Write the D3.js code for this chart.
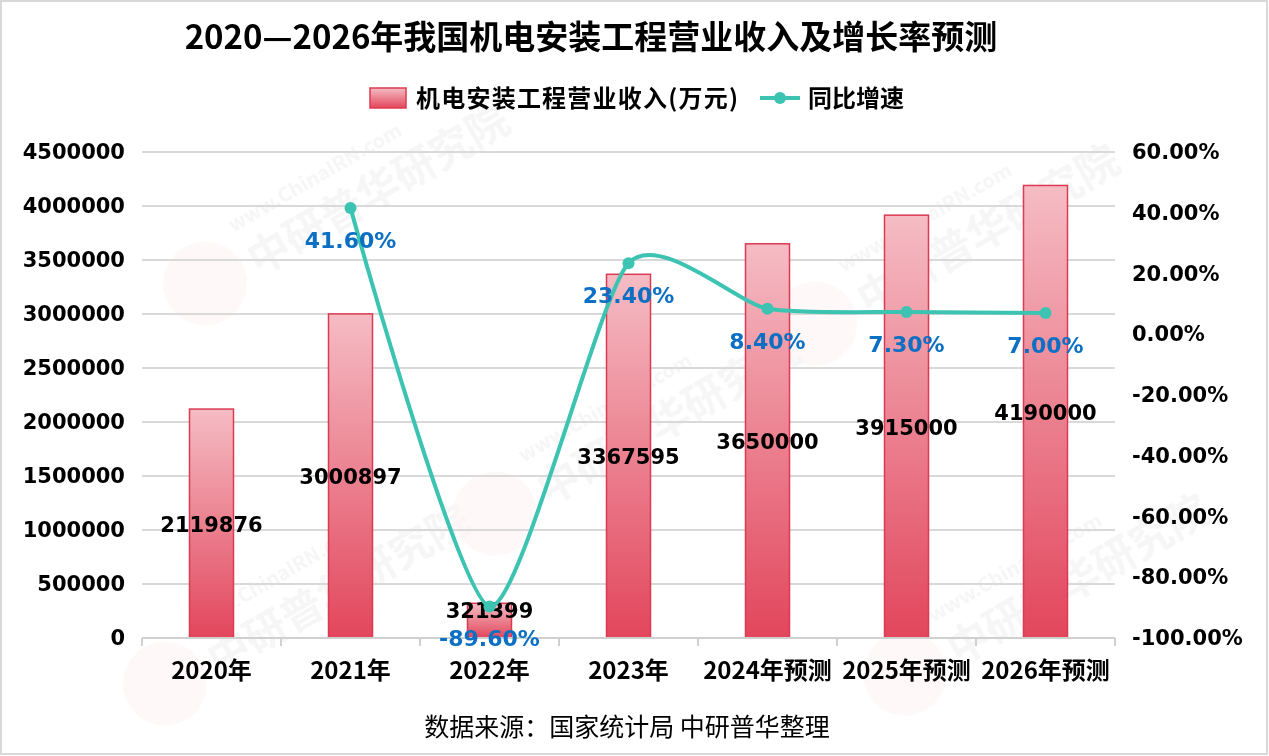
<!DOCTYPE html>
<html>
<head>
<meta charset="utf-8">
<script src="https://cdn.jsdelivr.net/npm/d3@7"></script>
<style>
  body { margin: 0; background: #fff; }
  text { font-family: "Noto Sans CJK SC", "Noto Sans", sans-serif; }
</style>
</head>
<body>
<div id="chart"></div>
<script>
// data
var years = ["2020年", "2021年", "2022年", "2023年", "2024年预测", "2025年预测", "2026年预测"];
var revenue = [2119876, 3000897, 321399, 3367595, 3650000, 3915000, 4190000];
var growth = [null, 41.6, -89.6, 23.4, 8.4, 7.3, 7.0];
var leftTicks = [0, 500000, 1000000, 1500000, 2000000, 2500000, 3000000, 3500000, 4000000, 4500000];
var rightTicks = [-100, -80, -60, -40, -20, 0, 20, 40, 60];

var W = 1269, H = 756;
var svg = d3.select("#chart").append("svg").attr("width", W).attr("height", H);

// gradients
var defs = svg.append("defs");
var grad = defs.append("linearGradient").attr("id", "barGrad")
    .attr("x1", 0).attr("y1", 0).attr("x2", 0).attr("y2", 1);
grad.append("stop").attr("offset", "0%").attr("stop-color", "#f5bcc4");
grad.append("stop").attr("offset", "100%").attr("stop-color", "#e2465c");

// outer border
svg.append("rect").attr("x", 1).attr("y", 1).attr("width", W - 3).attr("height", H - 3)
    .attr("fill", "#fff").attr("stroke", "#d9d9d9").attr("stroke-width", 2);

// plot area
var pLeft = 142, pRight = 1115, pTop = 152, pBottom = 638;

var x = d3.scaleBand().domain(years).range([pLeft, pRight]).paddingInner(0).paddingOuter(0);
var y = d3.scaleLinear().domain([0, 4500000]).range([pBottom, pTop]);
var y2 = d3.scaleLinear().domain([-100, 60]).range([pBottom, pTop]);

// watermarks
var wm = svg.append("g").attr("opacity", 0.06);
[[330, 200], [940, 240], [290, 600], [1030, 590], [620, 430]].forEach(function (p) {
    var g = wm.append("g").attr("transform", "translate(" + p[0] + "," + p[1] + ")rotate(-30)");
    g.append("circle").attr("cx", -150).attr("cy", 10).attr("r", 42).attr("fill", "#e2465c").attr("opacity", 0.6);
    g.append("text").attr("x", -100).attr("y", -20).attr("font-size", 20).attr("font-weight", "bold")
        .attr("fill", "#666").text("www.ChinaIRN.com");
    g.append("text").attr("x", -100).attr("y", 30).attr("font-size", 42).attr("font-weight", "bold")
        .attr("fill", "#666").text("中研普华研究院");
});

// gridlines
svg.append("g").selectAll("line").data(leftTicks.slice(1)).enter().append("line")
    .attr("x1", pLeft).attr("x2", pRight)
    .attr("y1", function (d) { return y(d); }).attr("y2", function (d) { return y(d); })
    .attr("stroke", "#d9d9d9").attr("stroke-width", 2);

// left axis
var yAxis = d3.axisLeft(y).tickValues(leftTicks).tickSize(0).tickPadding(17).tickFormat(d3.format("d"));
var ga = svg.append("g").attr("transform", "translate(" + pLeft + ",0)").call(yAxis);
ga.select(".domain").remove();
ga.selectAll("text").attr("font-weight", "bold").attr("fill", "#000")
    .style("font-family", "'DejaVu Sans', sans-serif").style("font-size", "21px");

// right axis
var yAxis2 = d3.axisRight(y2).tickValues(rightTicks).tickSize(0).tickPadding(0)
    .tickFormat(function (d) { return d.toFixed(2) + "%"; });
var gb = svg.append("g").attr("transform", "translate(" + (pRight + 17) + ",0)").call(yAxis2);
gb.select(".domain").remove();
gb.selectAll("text").attr("fill", "#000").attr("font-weight", "bold")
    .style("font-family", "'DejaVu Sans', sans-serif").style("font-size", "21px");

// bars
var barW = 44;
svg.append("g").selectAll("rect").data(revenue).enter().append("rect")
    .attr("x", function (d, i) { return x(years[i]) + x.bandwidth() / 2 - barW / 2; })
    .attr("y", function (d) { return y(d); })
    .attr("width", barW)
    .attr("height", function (d) { return pBottom - y(d); })
    .attr("fill", "url(#barGrad)")
    .attr("stroke", "#dc3a52").attr("stroke-width", 1.5);

// x axis
svg.append("line").attr("x1", pLeft).attr("x2", pRight).attr("y1", pBottom).attr("y2", pBottom)
    .attr("stroke", "#d0d0d0").attr("stroke-width", 2);
var xb = d3.range(years.length + 1).map(function (i) { return pLeft + i * x.bandwidth(); });
svg.append("g").selectAll("line").data(xb).enter().append("line")
    .attr("x1", function (d) { return d; }).attr("x2", function (d) { return d; })
    .attr("y1", pBottom).attr("y2", pBottom + 8)
    .attr("stroke", "#d0d0d0").attr("stroke-width", 2);
svg.append("g").selectAll("text").data(years).enter().append("text")
    .attr("x", function (d) { return x(d) + x.bandwidth() / 2; })
    .attr("y", 679).attr("text-anchor", "middle")
    .attr("font-size", 24).attr("font-weight", "bold").attr("fill", "#000")
    .text(function (d) { return d; });

// bar value labels
svg.append("g").selectAll("text").data(revenue).enter().append("text")
    .attr("x", function (d, i) { return x(years[i]) + x.bandwidth() / 2; })
    .attr("y", function (d, i) { return i == 2 ? 618 : (y(d) + pBottom) / 2 + 8; })
    .attr("text-anchor", "middle")
    .attr("font-weight", "bold").attr("fill", "#000")
    .style("font-family", "'DejaVu Sans', sans-serif").style("font-size", "21px")
    .text(function (d) { return d; });

// growth line
var pts = growth.map(function (d, i) { return d == null ? null : [x(years[i]) + x.bandwidth() / 2, y2(d)]; })
    .filter(function (d) { return d; });
var line = d3.line().curve(d3.curveCardinal.tension(0.35));
svg.append("path").attr("d", line(pts)).attr("fill", "none")
    .attr("stroke", "#3cc3b1").attr("stroke-width", 4);
svg.append("g").selectAll("circle").data(pts).enter().append("circle")
    .attr("cx", function (d) { return d[0]; }).attr("cy", function (d) { return d[1]; })
    .attr("r", 6).attr("fill", "#3cc3b1");

// growth labels
svg.append("g").selectAll("text").data(growth.filter(function (d) { return d != null; })).enter().append("text")
    .attr("x", function (d, i) { return pts[i][0]; })
    .attr("y", function (d, i) { return pts[i][1] + 40; })
    .attr("text-anchor", "middle")
    .attr("fill", "#0b70c4").attr("font-weight", "bold")
    .style("font-family", "'DejaVu Sans', sans-serif").style("font-size", "22px")
    .text(function (d) { return d.toFixed(2) + "%"; });

// title
svg.append("text").attr("x", 591).attr("y", 49).attr("text-anchor", "middle")
    .attr("font-size", 33).attr("font-weight", "bold").attr("fill", "#000")
    .text("2020—2026年我国机电安装工程营业收入及增长率预测");

// legend
var lg = svg.append("g");
lg.append("rect").attr("x", 370).attr("y", 88).attr("width", 36).attr("height", 20)
    .attr("fill", "url(#barGrad)").attr("stroke", "#dc3a52").attr("stroke-width", 1.5);
lg.append("text").attr("x", 416).attr("y", 107).attr("font-size", 24).attr("font-weight", "bold")
    .attr("fill", "#000").attr("textLength", 322).text("机电安装工程营业收入(万元)");
lg.append("line").attr("x1", 760).attr("x2", 800).attr("y1", 98).attr("y2", 98)
    .attr("stroke", "#3cc3b1").attr("stroke-width", 4);
lg.append("circle").attr("cx", 780).attr("cy", 98).attr("r", 6).attr("fill", "#3cc3b1");
lg.append("text").attr("x", 808).attr("y", 107).attr("font-size", 24).attr("font-weight", "bold")
    .attr("fill", "#000").text("同比增速");

// source
svg.append("text").attr("x", 627).attr("y", 736).attr("text-anchor", "middle")
    .attr("font-size", 25).attr("fill", "#000").text("数据来源：国家统计局 中研普华整理");
</script>
</body>
</html>
